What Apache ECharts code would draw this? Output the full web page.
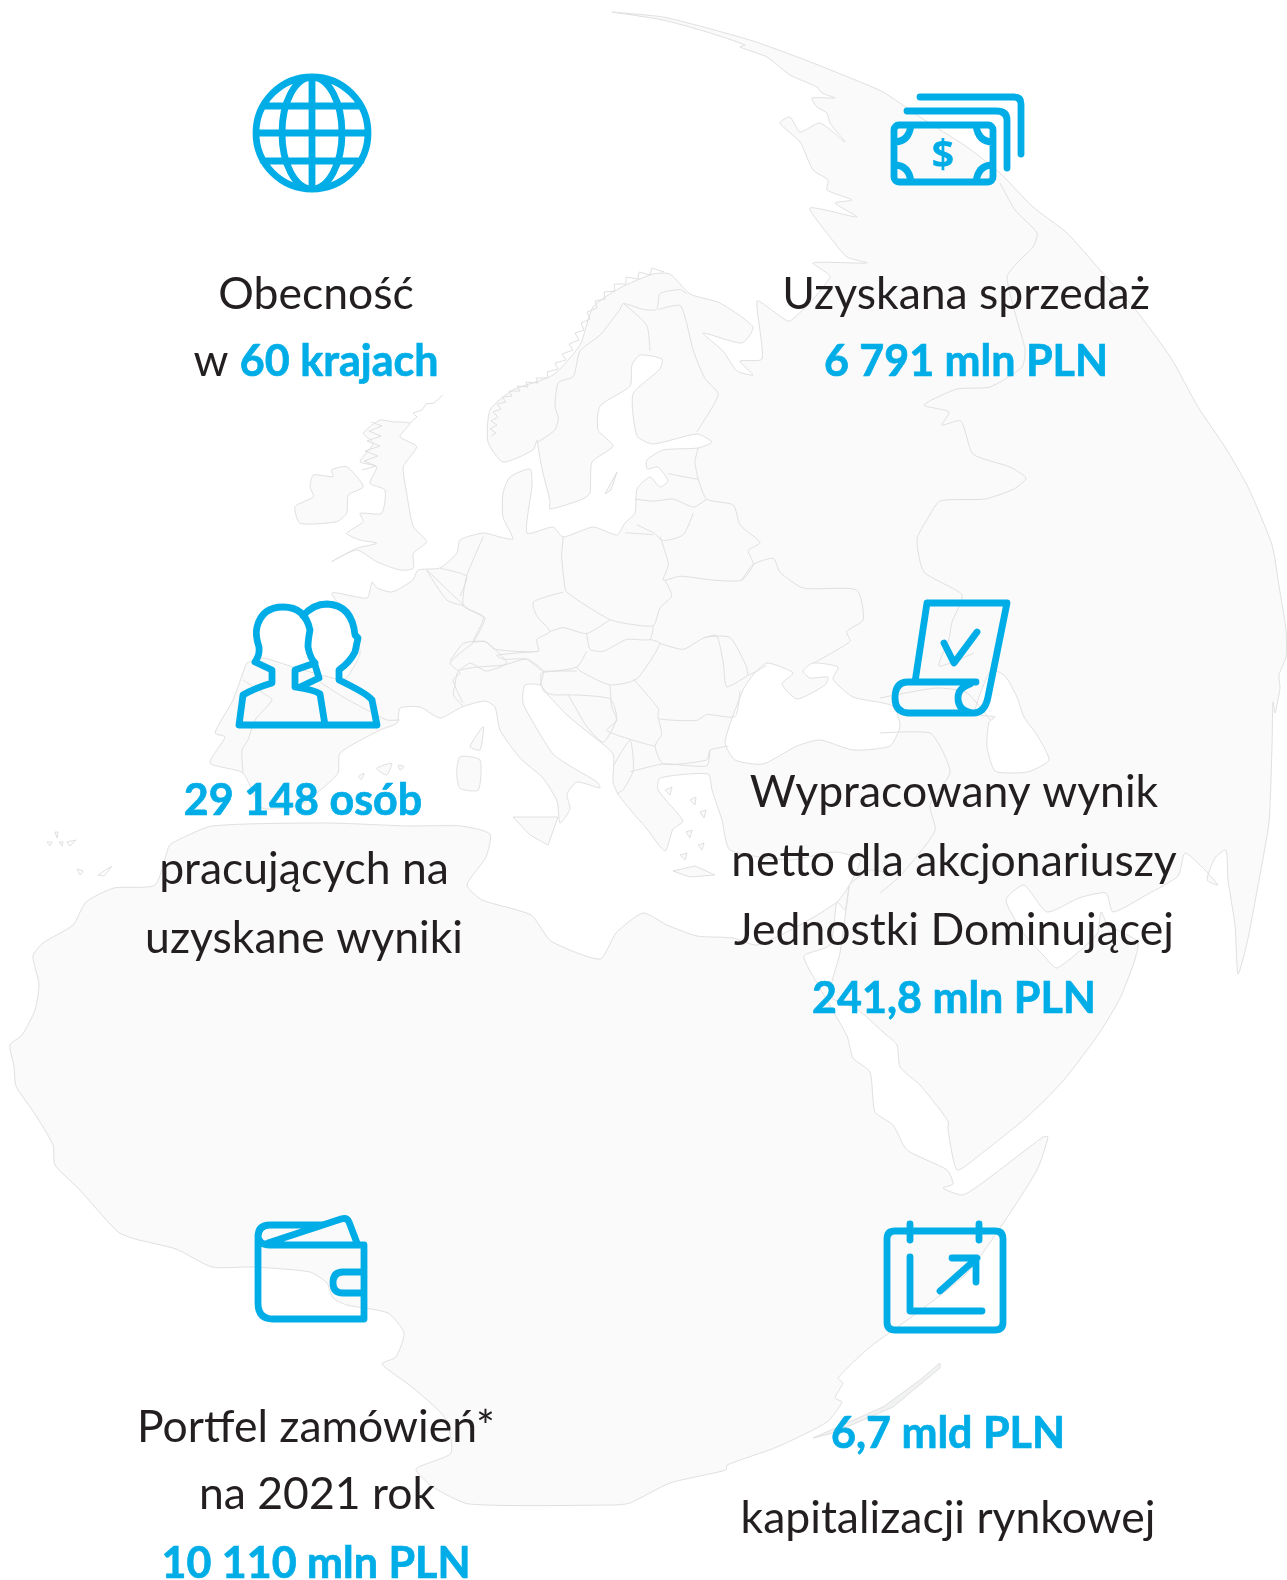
<!DOCTYPE html>
<html>
<head>
<meta charset="utf-8">
<title>Grupa w liczbach</title>
<style>
html, body { margin: 0; padding: 0; background: #fff; }
#chart { width: 1287px; height: 1580px; }
</style>
<script src="https://cdn.jsdelivr.net/npm/echarts@6/dist/echarts.min.js"></script>
</head>
<body>
<div id="chart"></div>
<script>
// teksty i wartosci
var kpiValues = ['60 krajach', '6 791 mln PLN', '29 148 osób', '241,8 mln PLN', '10 110 mln PLN', '6,7 mld PLN'];
var kpiPrefixes = ['w ', '', '', '', '', ''];
var kpiLabels = [
    ['Obecność'],
    ['Uzyskana sprzedaż'],
    ['pracujących na', 'uzyskane wyniki'],
    ['Wypracowany wynik', 'netto dla akcjonariuszy', 'Jednostki Dominującej'],
    ['Portfel zamówień*', 'na 2021 rok'],
    ['kapitalizacji rynkowej']
];

// kontur ladu, we wspolrzednych osi 0-1287 / 0-1580
var landOutline = [
    [612,12],[663,17],[707,28],[753,41],[800,58],[843,75],[883,92],[920,117],[967,147],[1000,173],[1033,207],[1067,233],[1100,270],
    [1135,309],[1171,358],[1198,407],[1225,447],[1248,487],[1272,545],[1279,586],[1286,630],[1286,657],[1279,675],[1280,688],[1275,713],[1273,702],
    [1272,746],[1269,822],[1259,880],[1247,943],[1238,974],[1235,925],[1228,880],[1226,850],[1215,858],[1207,880],[1218,885],[1202,867],[1185,853],
    [1178,876],[1148,894],[1113,912],[1106,893],[1079,898],[1047,912],[1024,885],[1006,900],[1024,934],[1044,956],[1057,968],[1097,934],[1101,912],[1108,925],[1138,943],[1121,996],
    [1100,1032],[1063,1081],[1027,1117],[977,1157],[957,1170],[948,1130],[948,1121],[920,1085],[900,1067],[897,1045],[883,1032],[857,1009],[830,996],[840,953],[849,886],[845,910],[837,902],[830,945],[804,956],
    [817,983],[847,1036],[853,1058],[870,1072],[875,1112],[893,1125],[907,1150],[947,1170],[953,1184],[943,1188],[963,1195],[993,1175],[1043,1137],[1048,1137],
    [1037,1170],[1000,1228],[967,1273],[917,1313],[870,1347],[838,1378],[843,1383],[835,1398],[842,1402],[827,1422],[777,1447],[727,1465],[726,1470],[670,1483],[630,1503],[613,1505],
    [469,1504],[433,1487],[416,1469],[451,1453],[445,1418],[412,1387],[382,1364],[396,1357],[404,1333],[388,1313],[347,1305],[333,1298],[327,1283],[310,1272],[253,1267],[212,1267],[176,1249],[135,1239],[118,1232],[78,1188],[55,1165],[53,1145],[35,1114],[16,1086],[14,1066],[10,1045],[22,1035],[35,1010],[39,984],[33,956],[43,943],[73,925],[86,902],[114,888],[155,885],[169,846],[176,841],[212,826],[327,823],[408,826],[461,826],[490,834],[486,857],[467,885],[482,900],[531,915],[551,941],[600,959],[616,933],[643,913],[667,925],[697,936],[733,938],[757,945],[800,925],[837,902],[850,884],[860,860],[835,852],[790,860],[730,850],
    [722,820],[712,790],[708,774],[660,778],[658,790],[683,821],[673,829],[665,851],[647,829],[633,813],[618,794],[613,782],[613,754],[590,734],[567,715],[548,695],[540,685],[525,685],[523,703],[540,734],[553,754],[570,766],[597,782],[600,788],[577,782],[567,794],[570,809],[560,823],[557,801],[543,778],[520,758],[500,730],[495,707],[485,701],[462,707],[440,718],[420,707],
    [400,708],[397,723],[380,730],[340,753],[338,773],[317,793],[300,805],[262,808],[243,773],[210,763],[225,737],[215,733],[233,700],[245,667],[247,663],[263,658],[293,667],[343,680],[350,673],[360,653],[353,623],[332,593],[367,598],[372,582],[377,588],[392,592],[413,580],[418,570],[440,568],[457,553],[460,540],[483,533],
    [500,537],[513,539],[503,517],[503,493],[510,477],[530,469],[532,485],[527,533],[553,527],[563,537],[593,527],[617,535],[625,523],[635,513],[637,489],[650,477],[660,487],[668,481],[658,467],[647,469],[647,460],[663,450],[698,448],[712,442],[697,434],[653,444],[637,436],[633,394],[660,369],[662,359],[640,355],[632,365],[630,386],[600,406],[598,430],[613,446],[592,462],[590,493],[583,499],[550,509],[550,501],[542,469],[538,446],
    [537,440],[533,450],[503,462],[488,442],[490,410],[513,390],[553,375],[580,345],[593,307],[620,288],[653,274],[670,274],[690,294],[720,303],[753,327],[742,343],[703,333],[723,351],[737,371],[753,375],[740,361],[762,359],
    [757,301],[773,311],[790,321],[830,277],[813,263],[867,263],[847,257],[830,237],[810,208],[857,217],[835,203],[852,200],[827,190],[828,180],[813,170],[800,142],[780,123],[790,117],[800,132],[820,123],[845,142],[830,123],[827,113],[817,107],[812,98],[835,98],[822,93],[817,87],[790,75],[767,57],[740,47],[745,45],[707,32],[663,20],[612,12]
];

// wyspy w ukladzie kadru Europy zachodniej
var westIslands = [
    [[575,125],[630,130],[600,170],[650,200],[610,260],[620,340],[640,440],[680,485],[640,520],[640,565],[600,570],[530,545],[470,510],[395,545],[470,505],[530,490],[480,480],[440,460],[490,425],[480,400],[545,400],[555,330],[510,310],[530,260],[480,245],[520,190],[490,160],[540,120]],
    [[340,285],[400,290],[395,270],[440,260],[490,320],[445,345],[440,400],[410,425],[300,430],[285,380],[340,350],[330,320]],
    [[810,1100],[850,1040],[840,1110]],
    [[780,1130],[840,1140],[835,1230],[780,1225],[770,1180]],
    [[530,1165],[575,1150],[560,1185]],
    [[595,1155],[612,1160],[600,1170]],
    [[475,1190],[492,1180],[485,1198]]
];
var otherIslands = [
    [[513,817],[558,817],[548,845],[530,835]],
    [[673,871],[695,866],[715,875],[690,877]],
    [[605,494],[617,472],[611,490]],
    [[665,790],[672,787],[670,795]],[[690,800],[696,797],[695,805]],[[700,812],[706,810],[704,818]],[[686,832],[692,830],[690,838]],[[698,845],[704,843],[702,850]],[[680,855],[687,853],[685,860]]
];
var madagascar = [[940,1363],[920,1380],[883,1407],[813,1438],[833,1433],[893,1407],[940,1368]];
var canaryIslands = [[[55,832],[58,832],[57,838]], [[47,842],[52,842],[50,846]], [[59,842],[63,842],[62,846]], [[67,842],[76,840],[70,846]], [[77,869],[83,871],[80,875]], [[98,875],[112,866],[104,876]]];

// morza srodladowe
var seas = [
    [[753,675],[743,690],[725,742],[735,760],[763,764],[797,746],[820,740],[853,750],[890,746],[900,726],[893,706],[853,697],[833,679],[838,667],[813,663],[803,671],[810,678],[828,677],[825,685],[797,699],[782,684],[793,673],[767,663]],
    [[991,670],[1005,676],[1017,697],[1024,717],[1037,735],[1049,760],[1031,771],[1017,773],[995,771],[987,747],[989,722],[995,717],[975,713]]
];

// granice panstw, w ukladzie kadru mapy Europy
var euroBorders = [
    [[355,460],[405,430],[415,400],[405,370],[415,310],[460,295],[480,230],[540,190],[600,125],[610,110],[670,125],[710,125],[720,85],[780,75],[800,85]],
    [[610,110],[680,165],[690,230]],
    [[715,125],[780,115],[800,160],[820,230],[855,300],[895,340],[830,435]],
    [[835,475],[825,510],[835,555],[860,605],[940,620],[960,670],[1020,715],[985,735],[1000,770],[965,810],[880,810],[780,800],[730,810],[745,770],[720,700]],
    [[745,540],[770,545],[835,555]],
    [[645,605],[700,610],[760,605],[820,625],[860,605]],
    [[650,670],[700,690],[730,710],[790,695],[820,640]],
    [[430,700],[425,750],[435,830],[440,840],[490,870],[570,910],[620,920],[700,925],[720,880],[755,850],[735,810]],
    [[615,690],[700,695]],
    [[430,840],[340,865],[350,900],[390,940],[350,960],[355,990],[225,985],[195,965],[160,965],[190,905],[130,875],[140,800],[190,700]],
    [[390,940],[430,930],[500,945],[570,910]],
    [[500,945],[510,985],[550,990],[620,960],[690,960],[700,925]],
    [[355,990],[230,1000],[250,1010],[320,1010],[370,1040],[470,1030],[500,990]],
    [[470,1030],[480,1040],[570,1075],[650,1060],[720,970],[690,960]],
    [[720,970],[790,985],[855,955],[930,955],[980,1030],[985,1050],[1040,1025]],
    [[965,810],[1000,770],[1060,755],[1080,790],[1150,830],[1310,835],[1330,910],[1280,940],[1290,965],[1180,1020]],
    [[855,955],[890,950],[910,1020],[920,1080],[985,1050]],
    [[640,1060],[715,1135],[715,1160],[830,1165],[860,1150],[945,1155],[960,1090]],
    [[715,1160],[725,1200],[705,1230],[730,1275],[860,1265],[870,1240],[925,1230]],
    [[570,1075],[575,1130],[590,1165],[560,1190],[620,1210],[680,1225],[705,1230]],
    [[445,1100],[570,1110],[590,1160],[550,1220],[500,1180],[445,1100]],
    [[470,1040],[365,1045],[370,1090],[400,1100],[445,1100]],
    [[105,1075],[115,1040],[170,1030],[250,1025],[320,1010],[370,1040],[360,1075]],
    [[90,1015],[130,970],[195,965],[225,985],[260,1020],[200,1040],[150,1020],[115,1040]],
    [[20,785],[80,860],[130,875]],
    [[60,780],[140,800],[120,850]],
    [[580,1280],[630,1215],[640,1290],[610,1340],[590,1350]],
    [[630,1295],[730,1275],[860,1280],[870,1240]],
    [[105,1075],[100,1100],[130,1130]]
];
// granice reszty mapy, juz w osiach
var otherBorders = [
    [[320,682],[343,697],[367,710],[387,720],[400,720]],
    [[243,680],[263,693],[272,700],[255,720],[248,740],[242,750],[243,773]],
    [[473,643],[485,618],[467,608],[427,570]],
    [[473,643],[450,663],[460,673],[453,680],[463,703]],
    [[1000,183],[1015,210],[1037,233],[1033,247],[1017,263],[1007,277],[1017,320],[1025,350],[1022,367],[990,387],[957,389],[924,405],[949,412],[942,425],[961,421],[973,454],[1010,467],[1026,478],[1014,489],[985,499],[940,501],[928,518],[917,539],[924,572],[962,595],[952,622],[949,639],[939,666],[974,653]],
    [[880,698],[937,688],[967,693],[990,720]],
    [[880,733],[930,733],[943,752],[950,773],[930,805],[935,831],[900,876],[880,893]],
    [[850,884],[870,870],[900,876]]
];
// postrzepione wybrzeze Norwegii, Hebrydy i Szetlandy
var fjordLines = [
    [[491,436],[496,433],[490,429],[497,425],[491,421],[498,417],[493,412],[501,409],[497,404],[506,402],[502,397],[512,396],[509,391],[520,391],[517,386],[528,387],[526,382],[538,383],[536,378],[548,378],[547,372],[558,369],[555,363],[566,360],[562,354],[573,350],[569,344],[579,340],[575,333],[584,330],[581,323],[590,319],[587,312],[597,308],[595,301],[605,299],[604,292],[615,291],[614,284],[626,284],[626,277],[638,279],[639,272],[650,275],[652,268],[664,272]],
    [[362,470],[376,466],[364,461],[378,456],[365,451],[380,446],[367,441],[381,436],[369,431],[382,426],[371,422]],
    [[410,423],[417,417],[413,413],[422,410],[426,404],[434,403],[443,395]]
];

// ikony
var iconPaths = [
    // globus
    'M368,133A56,56 0 1 1 256,133A56,56 0 1 1 368,133Z M312,77V189 M342,133A30,56 0 1 1 282,133A30,56 0 1 1 342,133Z M263,106H361 M256,133H368 M263,161H361',
    // banknoty
    'M899,125H988A5,5 0 0 1 993,130V177A5,5 0 0 1 988,182H899A5,5 0 0 1 894,177V130A5,5 0 0 1 899,125Z M894,142Q909,142 911,125 M976,125Q978,142 993,142 M894,165Q909,165 911,182 M976,182Q978,165 993,165 M920,97H1014Q1021,97 1021,104V154 M907,111H996Q1007,111 1007,120V168',
    // dwie osoby
    'M239,725H377L372,700Q368,694 339,680V670Q350,662 355,652L358,638L355,635Q352,605 327,604Q313,604 303,616 M239,725L243,695Q255,688 272,683V670L255,662Q260,655 259,647Q255,635 257,627Q262,607 283,607Q305,607 310,630Q308,640 308,647Q310,658 315,663L295,670V687Q315,690 320,694L325,725 M315,665L319,678L300,687',
    // dokument
    'M915,682L927,603H1007L988,697Q985,713 973,713H908Q895,712 895,698Q895,682 908,682H976 M973,713Q958,711 958,698Q958,688 970,684 M944,643L954,663L977,632',
    // portfel
    'M364,1245H270Q258,1245 258,1235V1303Q258,1319 273,1319H364V1245 M258,1237Q258,1225 270,1225H322 M268,1243L341,1219Q347,1217 349,1222L357,1243 M364,1272H343Q333,1272 333,1283Q333,1293 343,1293H364',
    // kalendarz
    'M895,1231H995Q1003,1231 1003,1239V1322Q1003,1330 995,1330H895Q887,1330 887,1322V1239Q887,1231 895,1231Z M910,1224V1240 M979,1224V1240 M910,1257V1311H982 M940,1291L977,1258 M952,1258H976V1282'
];
var dollarSign = ['$'];
var dollarPosition = [943, 157];

// polozenie wierszy tekstu: [srodek x, srodek y]
var labelPositions = [
    [[316,295]],
    [[966,295]],
    [[304,870],[304,939]],
    [[954,793],[954,862],[954,931]],
    [[316,1428],[317,1495]],
    [[948,1519]]
];
var valuePositions = [[316,362],[966,362],[303,801],[954,999],[316,1564],[948,1434]];

var DARK = '#231f20';
var BLUE = '#00ade7';
var FONT = 'Lato, "Open Sans", sans-serif';
var LABEL_SIZE = 44.5;
var VALUE_SIZE = 43;

function euro(list) {
    return list.map(function (p) { return [420 + p[0] / 3, 260 + p[1] / 2.53]; });
}
function west(list) {
    return list.map(function (p) { return [200 + p[0] / 3, 380 + p[1] / 3]; });
}

function shapes() {
    var out = [];
    out.push({ points: landOutline, fill: '#fafafa', close: true, smooth: 0.2 });
    westIslands.forEach(function (p) { out.push({ points: west(p), fill: '#fafafa', close: true, smooth: 0.2 }); });
    otherIslands.forEach(function (p) { out.push({ points: p, fill: '#fafafa', close: true }); });
    canaryIslands.forEach(function (p) { out.push({ points: p, fill: '#ffffff', close: true }); });
    out.push({ points: madagascar, fill: '#f1f2f2', close: true });
    seas.forEach(function (p) { out.push({ points: p, fill: '#ffffff', close: true, smooth: 0.2 }); });
    euroBorders.forEach(function (p) { out.push({ points: euro(p), smooth: 0.2 }); });
    otherBorders.forEach(function (p) { out.push({ points: p, smooth: 0.2 }); });
    fjordLines.forEach(function (p) { out.push({ points: p }); });
    return out;
}

var mapShapes = shapes();

var myChart = echarts.init(document.getElementById('chart'));

var option = {
    animation: false,
    backgroundColor: '#ffffff',
    grid: { left: 0, top: 0, width: 1287, height: 1580 },
    xAxis: { type: 'value', min: 0, max: 1287, show: false },
    yAxis: { type: 'value', min: 0, max: 1580, inverse: true, show: false },
    series: [{
        name: 'mapa',
        type: 'custom',
        silent: true,
        clip: false,
        data: mapShapes.map(function (s, i) { return i; }),
        renderItem: function (params, api) {
            var s = mapShapes[api.value(0)];
            var pts = s.points.map(function (p) { return api.coord(p); });
            return {
                type: s.close ? 'polygon' : 'polyline',
                shape: { points: pts, smooth: s.smooth || 0 },
                style: { fill: s.close ? s.fill : 'none', stroke: '#e0e0e0', lineWidth: 1 }
            };
        }
    }, {
        name: 'ikony',
        type: 'custom',
        silent: true,
        clip: false,
        data: iconPaths.map(function (s, i) { return i; }),
        renderItem: function (params, api) {
            return {
                type: 'path',
                shape: { pathData: iconPaths[api.value(0)] },
                style: { fill: 'none', stroke: BLUE, lineWidth: 6.8, lineCap: 'round', lineJoin: 'round' }
            };
        }
    }, {
        name: 'dolar',
        type: 'custom',
        silent: true,
        clip: false,
        data: [0],
        renderItem: function (params, api) {
            var c = api.coord(dollarPosition);
            return {
                type: 'text', x: c[0], y: c[1],
                style: { text: dollarSign[0], fill: BLUE, font: 'bold 40px "Open Sans", sans-serif', align: 'center', verticalAlign: 'middle' }
            };
        }
    }, {
        name: 'opisy',
        type: 'custom',
        silent: true,
        clip: false,
        data: kpiValues.map(function (s, i) { return i; }),
        renderItem: function (params, api) {
            var k = api.value(0);
            var children = [];
            kpiLabels[k].forEach(function (line, j) {
                var c = api.coord(labelPositions[k][j]);
                children.push({
                    type: 'text', x: c[0], y: c[1],
                    style: { text: line, fill: DARK, font: LABEL_SIZE + 'px ' + FONT, align: 'center', verticalAlign: 'middle' }
                });
            });
            var v = api.coord(valuePositions[k]);
            var text = '{v|' + kpiValues[k] + '}';
            if (kpiPrefixes[k]) {
                text = '{p|' + kpiPrefixes[k] + '}' + text;
            }
            children.push({
                type: 'text', x: v[0], y: v[1],
                style: {
                    text: text,
                    align: 'center',
                    verticalAlign: 'middle',
                    rich: {
                        p: { fill: DARK, fontFamily: 'Lato', fontSize: LABEL_SIZE },
                        v: { fill: BLUE, fontFamily: 'Lato', fontWeight: 'bold', fontSize: VALUE_SIZE, stroke: BLUE, lineWidth: 0.7 }
                    }
                }
            });
            return { type: 'group', children: children };
        }
    }]
};

myChart.setOption(option);
</script>
</body>
</html>
